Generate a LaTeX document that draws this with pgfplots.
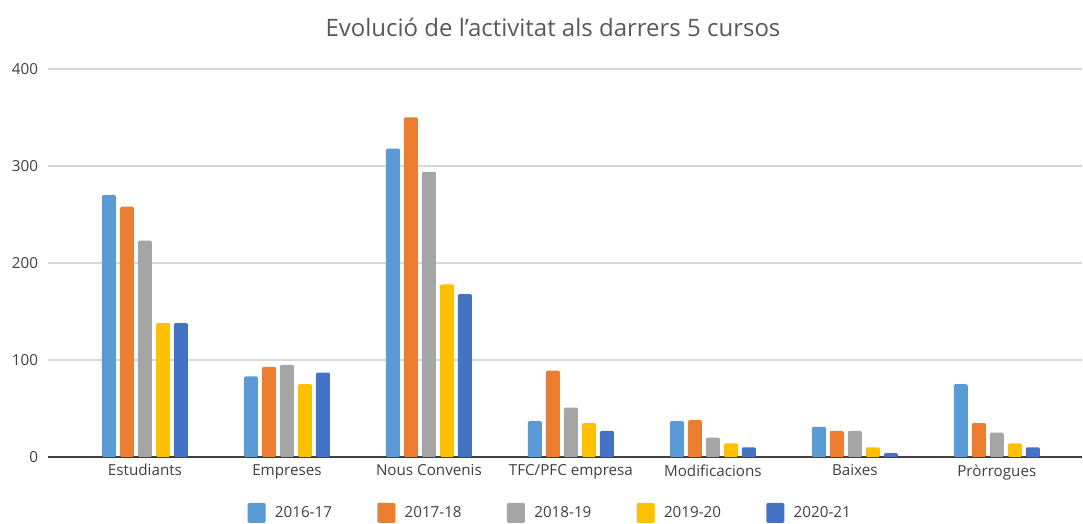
\documentclass[border=0pt]{standalone}
\usepackage{fontspec}
\setmainfont{Open Sans}
\usepackage{pgfplots}
\pgfplotsset{compat=1.18}
\usetikzlibrary{calc}

\definecolor{c1}{HTML}{5B9BD5}
\definecolor{c2}{HTML}{ED7D31}
\definecolor{c3}{HTML}{A5A5A5}
\definecolor{c4}{HTML}{FFC000}
\definecolor{c5}{HTML}{4472C4}
\definecolor{txt}{HTML}{404040}
\definecolor{ttl}{HTML}{595959}

\begin{document}
\begin{tikzpicture}
\begin{axis}[
  name=ax,
  scale only axis,
  width=775.5pt, height=291pt,
  ybar=3pt,
  bar width=10.5pt,
  xmin=-0.683, xmax=6.6,
  ymin=0, ymax=400,
  xtick={0,...,6},
  xticklabels={Estudiants,Empreses,Nous Convenis,TFC/PFC empresa,Modificacions,Baixes,Pròrrogues},
  ytick={100,200,300,400},
  extra y ticks={0},
  extra y tick style={grid style={draw=txt, line width=1.3pt}},
  ymajorgrids,
  grid style={draw=black!15, line width=1.1pt},
  axis line style={draw=none},
  major tick length=0pt,
  tick label style={font=\fontsize{11.4}{13}\selectfont, text=txt},
  /pgf/number format/assume math mode=true,
  yticklabel style={xshift=-4pt},
  xticklabel style={yshift=-2pt},
  title={Evolució de l'activitat als darrers 5 cursos},
  title style={font=\fontsize{18}{21}\selectfont, text=ttl, yshift=15pt, xshift=-9pt},
  legend columns=5,
  legend style={draw=none, at={(0.486,-0.144)}, anchor=center,
    font=\fontsize{11.4}{13}\selectfont, text=txt,
    /tikz/every odd column/.append style={column sep=5pt},
    /tikz/every even column/.append style={column sep=32pt}},
  legend image code/.code={\fill[#1] (0pt,-7.5pt) rectangle (13.5pt,7.5pt);},
  every axis plot/.append style={rounded corners=1pt},
]
\addplot[fill=c1, draw=none] coordinates {(0,270) (1,83) (2,318) (3,37) (4,37) (5,31) (6,75)};
\addplot[fill=c2, draw=none] coordinates {(0,258) (1,93) (2,350) (3,89) (4,38) (5,27) (6,35)};
\addplot[fill=c3, draw=none] coordinates {(0,223) (1,95) (2,294) (3,51) (4,20) (5,27) (6,25)};
\addplot[fill=c4, draw=none] coordinates {(0,138) (1,75) (2,178) (3,35) (4,14) (5,10) (6,14)};
\addplot[fill=c5, draw=none] coordinates {(0,138) (1,87) (2,168) (3,27) (4,10) (5,4) (6,10)};
\legend{2016-17,2017-18,2018-19,2019-20,2020-21}
\end{axis}
\pgfresetboundingbox
\path ($(ax.south west)+(-36pt,-50.25pt)$) rectangle ($(ax.south west)+(776.25pt,342.75pt)$);
\end{tikzpicture}
\end{document}
